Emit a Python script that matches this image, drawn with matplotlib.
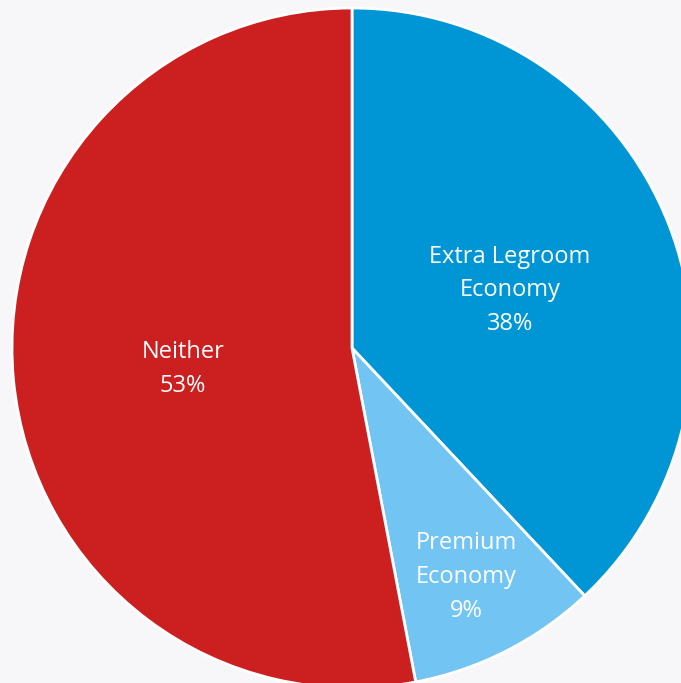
import numpy as np
import matplotlib.pyplot as plt

# --- dados ---
categorias = ['Extra Legroom\nEconomy', 'Premium\nEconomy', 'Neither']
percentagens = [38, 9, 53]
cores = ['#0096d6', '#72c5f3', '#cc1f20']
dist_rotulo = [0.50, 0.74, 0.50]  # distância relativa ao raio

BG = '#f7f7fa'

fig = plt.figure(figsize=(6.81, 6.83), dpi=100, facecolor=BG)
ax = fig.add_axes([0, 0, 1, 1])
ax.set_facecolor(BG)

raio = 340
centro = (352, 683 - 348)

wedges, _ = ax.pie(percentagens, colors=cores, startangle=90, counterclock=False,
                   radius=raio, center=centro,
                   wedgeprops=dict(edgecolor='white', linewidth=2))

# rótulos dentro das fatias
for w, cat, pct, d in zip(wedges, categorias, percentagens, dist_rotulo):
    ang = np.deg2rad((w.theta1 + w.theta2) / 2)
    x = centro[0] + d * raio * np.cos(ang)
    y = centro[1] + d * raio * np.sin(ang) - 5
    ax.text(x, y, f'{cat}\n{pct}%', ha='center', va='center', color='white',
            fontsize=17, family='Open Sans', linespacing=1.55)

ax.set_xlim(0, 681)
ax.set_ylim(0, 683)
ax.set_aspect('equal')
ax.axis('off')

fig.savefig('out.png', dpi=100, facecolor=BG)
